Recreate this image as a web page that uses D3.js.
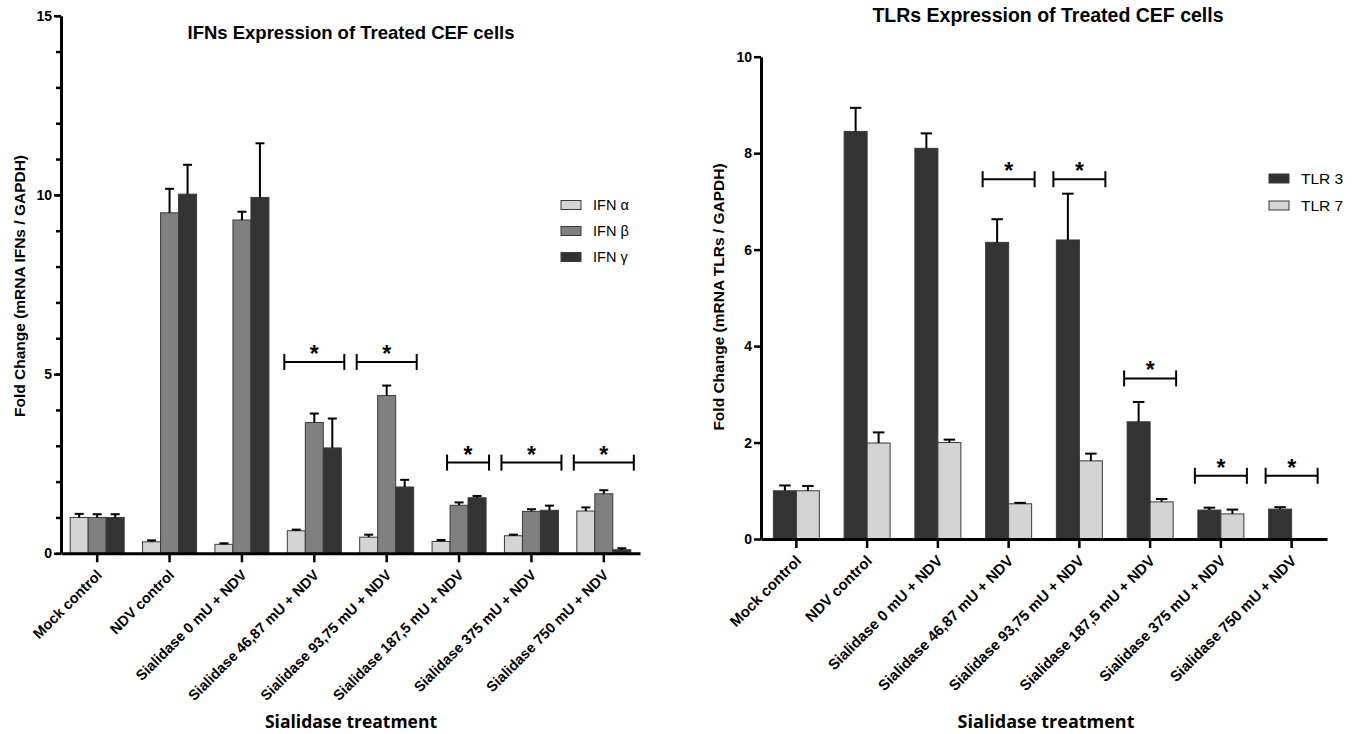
<!DOCTYPE html>
<html>
<head>
<meta charset="utf-8">
<script src="https://cdn.jsdelivr.net/npm/d3@7"></script>
<style>
  body { margin: 0; background: #fff; }
  svg { display: block; }
  text { font-family: "Liberation Sans", Arial, sans-serif; fill: #000; }
</style>
</head>
<body>
<svg id="chart" width="1358" height="734"></svg>
<script>
// categories shared by both panels
var categories = ['Mock control', 'NDV control', 'Sialidase 0 mU + NDV', 'Sialidase 46,87 mU + NDV',
                  'Sialidase 93,75 mU + NDV', 'Sialidase 187,5 mU + NDV', 'Sialidase 375 mU + NDV', 'Sialidase 750 mU + NDV'];

// IFNs panel
var ifnSeries   = ['IFN α', 'IFN β', 'IFN γ'];
var ifnAlpha    = [1.00, 0.32, 0.25, 0.63, 0.45, 0.33, 0.49, 1.18];
var ifnAlphaErr = [0.10, 0.04, 0.03, 0.03, 0.07, 0.04, 0.03, 0.10];
var ifnBeta     = [1.00, 9.50, 9.30, 3.65, 4.40, 1.34, 1.17, 1.66];
var ifnBetaErr  = [0.09, 0.67, 0.23, 0.25, 0.28, 0.08, 0.06, 0.10];
var ifnGamma    = [1.00, 10.02, 9.93, 2.94, 1.85, 1.55, 1.20, 0.10];
var ifnGammaErr = [0.09, 0.82, 1.51, 0.82, 0.20, 0.05, 0.13, 0.04];
var ifnTicks    = [0, 5, 10, 15];

// significance brackets (category index, first / last series index, height)
var ifnSigCat  = [3, 4, 5, 6, 7];
var ifnSigFrom = [0, 0, 1, 0, 0];
var ifnSigTo   = [2, 2, 2, 2, 2];
var ifnSigY    = [5.34, 5.34, 2.53, 2.53, 2.53];

// TLRs panel
var tlrSeries  = ['TLR 3', 'TLR 7'];
var tlr3       = [1.00, 8.45, 8.10, 6.15, 6.20, 2.43, 0.60, 0.62];
var tlr3Err    = [0.11, 0.49, 0.31, 0.48, 0.96, 0.41, 0.05, 0.04];
var tlr7       = [1.00, 1.99, 2.00, 0.73, 1.62, 0.77, 0.52, null];
var tlr7Err    = [0.10, 0.22, 0.06, 0.02, 0.15, 0.06, 0.09, null];
var tlrTicks   = [0, 2, 4, 6, 8, 10];

var tlrSigCat  = [3, 4, 5, 6, 7];
var tlrSigFrom = [0, 0, 0, 0, 0];
var tlrSigTo   = [1, 1, 1, 1, 1];
var tlrSigY    = [7.46, 7.46, 3.33, 1.31, 1.31];

var svg = d3.select('#chart');

function drawChart(c) {
    var g = svg.append('g');

    var x = d3.scaleBand().domain(categories).range([c.x0, c.x1]);
    var y = d3.scaleLinear().domain([0, c.yMax]).range([c.y0, c.yTop]);
    var inner = d3.scaleBand().domain(c.series).range([0, c.barW * c.series.length]);
    var off = (x.bandwidth() - c.barW * c.series.length) / 2;

    //Bars + error bars
    c.series.forEach((s, j) => {
        var rows = categories.map((cat, i) => {
            return { cat: cat, v: c.values[j][i], e: c.errors[j][i] };
        }).filter((d) => d.v != null);

        g.selectAll(null)
            .data(rows)
            .enter()
            .append('rect')
            .attr('x', (d) => x(d.cat) + off + inner(s))
            .attr('y', (d) => y(d.v))
            .attr('width', inner.bandwidth())
            .attr('height', (d) => y(0) - y(d.v))
            .attr('fill', c.colors[j])
            .attr('stroke', '#3a3a3a')
            .attr('stroke-width', 1);

        var cx = (d) => x(d.cat) + off + inner(s) + inner.bandwidth() / 2;
        g.selectAll(null)
            .data(rows)
            .enter()
            .append('line')
            .attr('x1', cx).attr('x2', cx)
            .attr('y1', (d) => y(d.v))
            .attr('y2', (d) => y(d.v + d.e))
            .attr('stroke', '#000')
            .attr('stroke-width', 2);
        g.selectAll(null)
            .data(rows)
            .enter()
            .append('line')
            .attr('x1', (d) => cx(d) - inner.bandwidth() / 4)
            .attr('x2', (d) => cx(d) + inner.bandwidth() / 4)
            .attr('y1', (d) => y(d.v + d.e))
            .attr('y2', (d) => y(d.v + d.e))
            .attr('stroke', '#000')
            .attr('stroke-width', 2);
    });

    //Y axis
    if (c.minor) {
        g.append('g')
            .attr('transform', 'translate(' + c.x0 + ',0)')
            .call(d3.axisLeft(y).tickValues(d3.range(0, c.yMax + 1)).tickSize(5).tickFormat(''))
            .call((a) => a.select('.domain').remove())
            .selectAll('line').attr('stroke-width', 2.5);
    }
    var ya = g.append('g')
        .attr('transform', 'translate(' + c.x0 + ',0)')
        .call(d3.axisLeft(y).tickValues(c.ticks).tickSize(7).tickSizeOuter(0).tickPadding(2));
    ya.select('.domain').attr('stroke-width', 3);
    ya.selectAll('line').attr('stroke-width', 2.5);
    ya.selectAll('text').attr('font-size', 14).attr('font-weight', 'bold')
        .style('font-family', '"Liberation Sans", Arial, sans-serif');

    //X axis
    var xa = g.append('g')
        .attr('transform', 'translate(0,' + c.y0 + ')')
        .call(d3.axisBottom(x).tickSize(9).tickSizeOuter(0));
    xa.select('.domain').attr('stroke-width', 3);
    xa.selectAll('line').attr('stroke-width', 2.5);
    xa.selectAll('text')
        .attr('x', 0).attr('y', 0).attr('dy', '0.35em')
        .attr('text-anchor', 'end')
        .attr('transform', 'translate(2,19) rotate(-45)')
        .attr('font-size', c.labelSize)
        .attr('font-weight', 'bold')
        .style('font-family', '"Liberation Sans", Arial, sans-serif');

    //Significance brackets
    c.sig.cat.forEach((ci, k) => {
        var base = x(categories[ci]) + off;
        var xa1 = base + inner(c.series[c.sig.from[k]]) - 3;
        var xa2 = base + inner(c.series[c.sig.to[k]]) + inner.bandwidth() + 3;
        var yy = y(c.sig.y[k]);
        g.append('line').attr('x1', xa1).attr('x2', xa2).attr('y1', yy).attr('y2', yy)
            .attr('stroke', '#000').attr('stroke-width', 2);
        [xa1, xa2].forEach((xx) => {
            g.append('line').attr('x1', xx).attr('x2', xx).attr('y1', yy - 8).attr('y2', yy + 8)
                .attr('stroke', '#000').attr('stroke-width', 2);
        });
        g.append('text').attr('x', (xa1 + xa2) / 2).attr('y', yy)
            .attr('text-anchor', 'middle').attr('font-size', 23).attr('font-weight', 'bold')
            .text('*');
    });

    //Titles
    g.append('text').attr('x', c.titleX).attr('y', c.titleY)
        .attr('text-anchor', 'middle').attr('font-size', c.titleSize).attr('font-weight', 'bold')
        .text(c.title);
    g.append('text')
        .attr('transform', 'translate(' + c.ylabX + ',' + c.ylabY + ') rotate(-90)')
        .attr('text-anchor', 'middle').attr('dy', '0.35em')
        .attr('font-size', c.ylabSize).attr('font-weight', 'bold')
        .text(c.ylab);
    g.append('text').attr('x', c.xlabX).attr('y', 728)
        .attr('text-anchor', 'middle').attr('font-size', c.xlabSize).attr('font-weight', 'bold')
        .style('font-family', '"Open Sans", sans-serif')
        .text('Sialidase treatment');

    //Legend
    c.series.forEach((s, j) => {
        var ly = c.legY + j * c.legGap;
        g.append('rect').attr('x', c.legX).attr('y', ly - 4.5).attr('width', 20).attr('height', 9)
            .attr('fill', c.colors[j]).attr('stroke', '#3a3a3a').attr('stroke-width', 1);
        g.append('text').attr('x', c.legX + 32).attr('y', ly).attr('dy', '0.36em')
            .attr('font-size', c.legSize).text(s);
    });
}

drawChart({
    x0: 61, x1: 640, y0: 553.3, yTop: 15.7, yMax: 15, ticks: ifnTicks, minor: true,
    series: ifnSeries,
    values: [ifnAlpha, ifnBeta, ifnGamma],
    errors: [ifnAlphaErr, ifnBetaErr, ifnGammaErr],
    colors: ['#d4d4d4', '#808080', '#333333'],
    barW: 18, labelSize: 14.5,
    sig: { cat: ifnSigCat, from: ifnSigFrom, to: ifnSigTo, y: ifnSigY },
    title: 'IFNs Expression of Treated CEF cells', titleX: 351, titleY: 39, titleSize: 18.5,
    ylab: 'Fold Change (mRNA IFNs / GAPDH)', ylabX: 20, ylabY: 286, ylabSize: 15.5,
    xlabX: 351, xlabSize: 17.5,
    legX: 561, legY: 205, legGap: 26, legSize: 14.5
});

drawChart({
    x0: 761, x1: 1327, y0: 539, yTop: 56.7, yMax: 10, ticks: tlrTicks, minor: false,
    series: tlrSeries,
    values: [tlr3, tlr7],
    errors: [tlr3Err, tlr7Err],
    colors: ['#333333', '#d4d4d4'],
    barW: 23, labelSize: 15,
    sig: { cat: tlrSigCat, from: tlrSigFrom, to: tlrSigTo, y: tlrSigY },
    title: 'TLRs Expression of Treated CEF cells', titleX: 1048, titleY: 22, titleSize: 19.5,
    ylab: 'Fold Change (mRNA TLRs / GAPDH)', ylabX: 719, ylabY: 297, ylabSize: 15.5,
    xlabX: 1046, xlabSize: 18,
    legX: 1269, legY: 178.5, legGap: 27, legSize: 15.5
});
</script>
</body>
</html>
